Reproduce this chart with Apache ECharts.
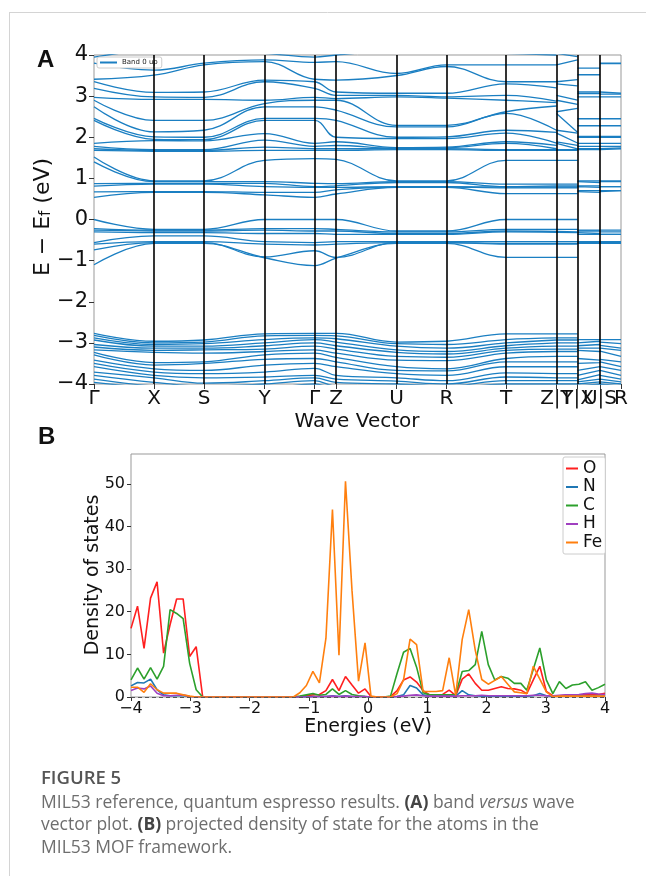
<!DOCTYPE html>
<html><head><meta charset="utf-8">
<script src="https://cdn.jsdelivr.net/npm/echarts@6/dist/echarts.min.js"></script>
<style>html,body{margin:0;padding:0;background:#fff}#c{width:646px;height:876px}</style>
</head><body><div id="c"></div>
<script>
// ---------- Panel A: band structure ----------
const kPos = [0, 60, 110, 170.5, 220.5, 242, 302.5, 352.5, 412, 462.5, 483.5, 506, 527];
const kLabels = ['Γ', 'X', 'S', 'Y', 'Γ', 'Z', 'U', 'R', 'T', 'Z|T', 'Y|X', 'U|S', 'R'];
// sampled path positions (duplicated at the discontinuities Z|T, Y|X, U|S)
const kSample = [0, 60, 110, 170.5, 220.5, 242, 302.5, 352.5, 412, 462.5, 462.5, 483.5, 483.5, 506, 506, 527];
const jumpAfter = [9, 11, 13];

// energies (eV) of each band group at each sampled k position
const deepVB = [
  [-2.77,-2.82,-2.88,-2.93,-3.04,-3.10,-3.17,-3.23,-3.29,-3.42,-3.50,-3.58,-3.71,-3.79,-3.88,-3.96],
  [-2.96,-3.00,-3.04,-3.08,-3.13,-3.18,-3.23,-3.48,-3.54,-3.63,-3.71,-3.79,-3.85,-3.96,-4.05,-4.10],
  [-2.93,-2.98,-3.02,-3.08,-3.13,-3.17,-3.25,-3.46,-3.50,-3.67,-3.75,-3.85,-3.98,-4.05,-4.10,-4.15],
  [-2.78,-2.83,-2.92,-3.00,-3.07,-3.15,-3.21,-3.29,-3.40,-3.54,-3.71,-3.83,-3.92,-4.00,-4.10,-4.15],
  [-2.77,-2.82,-2.88,-2.92,-3.00,-3.08,-3.17,-3.25,-3.38,-3.50,-3.62,-3.79,-3.85,-3.92,-4.00,-4.10],
  [-2.77,-2.83,-2.90,-2.98,-3.07,-3.15,-3.25,-3.35,-3.46,-3.58,-3.79,-3.88,-3.96,-4.05,-4.10,-4.15],
  [-2.98,-3.02,-3.08,-3.17,-3.23,-3.33,-3.42,-3.58,-3.67,-3.75,-3.85,-3.93,-4.00,-4.05,-4.10,-4.15],
  [-2.96,-3.04,-3.13,-3.21,-3.27,-3.35,-3.43,-3.63,-3.68,-3.79,-3.92,-4.00,-4.05,-4.10,-4.15,-4.20],
  [-2.78,-2.92,-3.00,-3.07,-3.13,-3.18,-3.25,-3.38,-3.46,-3.58,-3.73,-3.83,-3.92,-4.00,-4.10,-4.15],
  [-2.78,-2.88,-2.93,-3.00,-3.08,-3.15,-3.21,-3.33,-3.46,-3.58,-3.75,-3.85,-3.92,-4.00,-4.10,-4.15],
  [-2.78,-2.88,-2.93,-3.00,-3.08,-3.15,-3.21,-3.33,-3.46,-3.58,-3.75,-3.85,-3.92,-4.00,-4.10,-4.15],
  [-2.78,-2.88,-2.93,-3.00,-3.08,-3.15,-3.21,-3.33,-3.46,-3.58,-3.75,-3.85,-3.92,-4.00,-4.10,-4.15],
  [-2.92,-3.00,-3.07,-3.13,-3.18,-3.38,-3.50,-3.67,-3.79,-3.90,-3.95,-4.00,-4.05,-4.10,-4.15,-4.20],
  [-2.92,-2.96,-3.04,-3.13,-3.21,-3.42,-3.48,-3.58,-3.67,-3.77,-3.88,-3.95,-4.00,-4.10,-4.15,-4.20],
  [-2.92,-2.98,-3.06,-3.13,-3.20,-3.40,-3.46,-3.58,-3.67,-3.79,-3.88,-3.95,-4.00,-4.10,-4.15,-4.20],
  [-2.92,-3.02,-3.13,-3.18,-3.33,-3.46,-3.58,-3.67,-3.79,-3.88,-3.95,-4.00,-4.05,-4.10,-4.15,-4.20]
];
const nearVB = [
  [0.00,-0.22,-0.26,-0.30,-0.56,-0.60,-0.74,-1.10],
  [-0.24,-0.26,-0.28,-0.32,-0.40,-0.54,-0.56,-0.58],
  [-0.24,-0.26,-0.28,-0.32,-0.40,-0.54,-0.56,-0.58],
  [0.00,-0.22,-0.26,-0.34,-0.54,-0.60,-0.91,-0.93],
  [0.00,-0.22,-0.28,-0.34,-0.56,-0.62,-0.76,-1.12],
  [0.00,-0.24,-0.28,-0.36,-0.54,-0.60,-0.92,-0.94],
  [-0.28,-0.30,-0.34,-0.36,-0.54,-0.56,-0.56,-0.58],
  [-0.28,-0.30,-0.34,-0.36,-0.54,-0.56,-0.56,-0.58],
  [0.00,-0.24,-0.28,-0.30,-0.54,-0.58,-0.60,-0.92],
  [0.00,-0.24,-0.29,-0.31,-0.54,-0.58,-0.60,-0.92],
  [0.00,-0.24,-0.29,-0.31,-0.54,-0.58,-0.60,-0.92],
  [0.00,-0.24,-0.30,-0.32,-0.54,-0.58,-0.60,-0.92],
  [-0.26,-0.28,-0.32,-0.36,-0.54,-0.56,-0.58,-0.58],
  [-0.26,-0.28,-0.34,-0.36,-0.54,-0.56,-0.58,-0.58],
  [-0.26,-0.30,-0.36,-0.36,-0.54,-0.56,-0.58,-0.58],
  [-0.26,-0.30,-0.36,-0.36,-0.54,-0.56,-0.58,-0.58]
];
const lowCB = [
  [1.52,1.40,0.87,0.81,0.67,0.54],
  [0.94,0.92,0.88,0.86,0.68,0.66],
  [0.94,0.92,0.88,0.86,0.68,0.66],
  [1.44,0.92,0.88,0.80,0.66,0.60],
  [1.48,0.88,0.80,0.78,0.66,0.54],
  [1.46,0.87,0.82,0.78,0.72,0.62],
  [0.94,0.92,0.90,0.80,0.79,0.78],
  [0.94,0.92,0.90,0.80,0.79,0.78],
  [1.44,0.86,0.80,0.79,0.77,0.63],
  [1.44,0.86,0.82,0.79,0.77,0.63],
  [1.44,0.86,0.82,0.79,0.77,0.63],
  [1.44,0.86,0.82,0.79,0.77,0.63],
  [0.94,0.92,0.82,0.80,0.70,0.68],
  [0.94,0.90,0.82,0.78,0.70,0.66],
  [0.94,0.92,0.80,0.80,0.70,0.68],
  [0.94,0.92,0.80,0.80,0.70,0.70]
];
const highCB = [
  [3.95,3.80,3.41,3.35,3.19,2.97,2.90,2.74,2.46,2.41,1.85,1.78,1.72,1.68],
  [4.10,3.63,3.51,3.09,2.98,2.92,2.41,2.13,2.01,1.95,1.92,1.70,1.68,1.66],
  [4.10,3.80,3.76,3.10,2.97,2.92,2.41,2.17,2.00,1.94,1.91,1.70,1.68,1.66],
  [4.04,3.88,3.84,3.39,3.35,2.90,2.82,2.74,2.46,2.41,2.09,1.93,1.76,1.68],
  [3.95,3.82,3.41,3.35,3.19,2.97,2.90,2.74,2.46,2.41,1.85,1.78,1.72,1.68],
  [4.00,3.84,3.39,3.10,3.02,2.94,2.90,2.66,2.41,2.00,1.89,1.80,1.72,1.68],
  [4.10,3.55,3.50,3.07,3.02,2.98,2.29,2.25,2.00,1.97,1.75,1.73,1.72,1.70],
  [4.10,3.76,3.72,3.07,2.98,2.95,2.29,2.25,2.01,1.97,1.76,1.74,1.72,1.70],
  [4.04,3.76,3.35,3.30,3.02,2.90,2.62,2.58,2.17,2.10,1.89,1.85,1.70,1.68],
  [4.00,3.76,3.35,3.20,2.88,2.84,2.76,2.17,2.12,1.86,1.80,1.72,1.70,1.68],
  [4.04,3.76,3.35,3.30,3.02,2.90,2.62,2.58,2.17,2.10,1.89,1.85,1.70,1.68],
  [3.96,3.88,3.40,3.25,2.90,2.80,2.70,2.12,2.10,1.86,1.80,1.72,1.70,1.68],
  [4.10,3.68,3.52,3.10,3.06,2.98,2.45,2.28,2.02,2.00,1.85,1.78,1.72,1.70],
  [4.10,3.68,3.52,3.10,3.06,2.98,2.45,2.28,2.02,2.00,1.85,1.78,1.72,1.70],
  [4.10,3.80,3.79,3.10,3.05,2.98,2.45,2.28,2.02,2.00,1.85,1.78,1.72,1.70],
  [4.10,3.80,3.79,3.07,3.05,2.98,2.45,2.28,2.02,2.00,1.85,1.78,1.74,1.72]
];
const bandTicks = [-4, -3, -2, -1, 0, 1, 2, 3, 4];

// ---------- Panel B: projected DOS ----------
const energies = [-4.00,-3.89,-3.78,-3.67,-3.56,-3.45,-3.34,-3.23,-3.12,-3.01,-2.90,-2.79,-2.68,-2.58,-2.47,-2.36,-2.25,-2.14,-2.03,-1.92,-1.81,-1.70,-1.59,-1.48,-1.37,-1.26,-1.15,-1.04,-0.93,-0.82,-0.71,-0.60,-0.49,-0.38,-0.27,-0.16,-0.05,0.05,0.16,0.27,0.38,0.49,0.60,0.71,0.82,0.93,1.04,1.15,1.26,1.37,1.48,1.59,1.70,1.81,1.92,2.03,2.14,2.25,2.36,2.47,2.58,2.68,2.79,2.90,3.01,3.12,3.23,3.34,3.45,3.56,3.67,3.78,3.89,4.00];
const dosO = [16.1,21.3,11.4,23.2,27.0,10.3,17.0,23.0,23.0,9.5,11.8,0, 0,0,0,0,0,0,0,0,0,0,0,0,0,
  0,0.1,0.3,0.5,0.6,1.5,4.1,1.5,4.8,2.8,0.9,1.9,0.1,0,0,0.1,
  1.5,4.0,4.7,3.5,1.5,0.5,0.5,0.6,1.6,0.3,
  4.2,5.4,3.2,1.6,1.6,2.0,2.4,2.0,1.9,1.6,
  0.8,4.0,7.2,1.3,0.3,0.3,0.4,0.4,0.5,0.5,0.5,0.6,0.9];
const dosN = [2.6,3.4,3.3,4.2,1.7,0.5,0.3,0.3,0.3,0.1,0,0, 0,0,0,0,0,0,0,0,0,0,0,0,0,
  0,0,0,0.1,0.1,0.1,0.3,0.1,0.3,0.1,0.1,0.1,0,0,0,0,
  0.1,0.5,2.7,2.1,0.5,0.2,0.2,0.2,0.3,0.2,
  1.5,0.5,0.3,0.2,0.2,0.2,0.2,0.2,0.2,0.2,
  0.2,0.3,0.8,0.3,0.2,0.2,0.2,0.2,0.2,0.2,0.2,0.2,0.2];
const dosC = [4.0,6.8,4.2,6.9,4.2,7.2,20.5,19.6,18.4,7.9,1.7,0, 0,0,0,0,0,0,0,0,0,0,0,0,0,
  0,0.2,0.5,0.8,0.4,0.6,1.9,0.6,1.5,0.6,0.3,0.1,0,0,0,0.2,
  5.5,10.5,11.4,7.0,1.0,0.5,0.5,0.5,0.5,0.6,
  6.0,6.2,7.6,15.4,7.6,4.0,4.8,4.4,3.2,3.2,
  1.6,6.5,11.5,4.0,0.8,3.6,2.0,2.8,3.0,3.6,1.6,2.2,3.0];
const dosH = [1.5,2.1,1.9,2.6,0.9,0.3,0.3,0.4,0.5,0.1,0,0, 0,0,0,0,0,0,0,0,0,0,0,0,0,
  0,0,0,0,0.1,0.1,0.2,0.1,0.2,0.1,0.1,0.1,0,0,0,0,
  0.1,0.2,0.4,0.5,0.3,0.2,0.2,0.2,0.2,0.2,
  0.3,0.3,0.3,0.4,0.3,0.3,0.3,0.3,0.3,0.3,
  0.3,0.4,0.4,0.3,0.3,0.4,0.5,0.5,0.6,0.8,0.9,0.7,0.6];
const dosFe = [2.3,2.3,1.1,3.1,1.7,0.9,0.9,0.9,0.5,0.2,0,0, 0,0,0,0,0,0,0,0,0,0,0,0,0,
  0,1.0,2.7,6.0,3.3,13.8,44.0,9.8,50.6,25.0,3.7,12.7,0.2,0,0,0,
  0.8,4.0,13.6,12.3,1.3,1.3,1.3,1.5,9.2,0.4,
  13.5,20.5,11.0,4.1,3.0,3.9,4.8,3.0,1.2,1.0,
  0.8,7.2,4.2,1.2,0.1,0.2,0.2,0.2,0.2,0.2,0.2,0.2,0.2];
const dosNames = ['O', 'N', 'C', 'H', 'Fe'];
const dosColors = ['#ff1f1f', '#1f77b4', '#2ca02c', '#a040c0', '#ff7f0e'];
const dosTicksY = [0, 10, 20, 30, 40, 50];

// ---------- build ----------
const FONT = 'DejaVu Sans';
const BAND_COLOR = '#1b7fc2';
const minus = v => String(v).replace('-', '\u2212');
const kLabelOf = v => { let b = 0; kPos.forEach((p, i) => { if (Math.abs(p - v) < Math.abs(kPos[b] - v)) b = i; }); return kLabels[b]; };
// split labels over two bottom axes so close labels are not dropped
const kPosMain = kPos.filter((p, i) => i !== 10 && i !== 12);
const kPosAlt = [kPos[10], kPos[12]];

function bandData(group, j) {
  const out = [];
  kSample.forEach((k, i) => {
    out.push([k, group[i][j]]);
    if (jumpAfter.includes(i)) out.push([k, '-']);
  });
  return out;
}
const series = [];
[deepVB, nearVB, lowCB, highCB].forEach(group => {
  for (let j = 0; j < group[0].length; j++) {
    series.push({
      type: 'line', name: 'Band 0 up', xAxisIndex: 0, yAxisIndex: 0,
      data: bandData(group, j), showSymbol: false, smooth: 0.4, connectNulls: false,
      lineStyle: { color: BAND_COLOR, width: 1.3 }, itemStyle: { color: BAND_COLOR },
      silent: true, z: 2
    });
  }
});
// high-symmetry vertical lines
series.push({
  type: 'line', xAxisIndex: 0, yAxisIndex: 0, data: [[0, -10]], showSymbol: false, silent: true, z: 4,
  lineStyle: { opacity: 0 },
  markLine: {
    silent: true, symbol: ['none', 'none'], label: { show: false },
    lineStyle: { color: '#000', width: 1.6, type: 'solid' },
    data: kPos.slice(1, -1).map(k => ({ xAxis: k }))
  }
});
const dosSeries = [dosO, dosN, dosC, dosH, dosFe];
dosSeries.forEach((arr, i) => {
  const s = {
    type: 'line', name: dosNames[i], xAxisIndex: 1, yAxisIndex: 1,
    data: energies.map((e, k) => [e, arr[k]]), showSymbol: false,
    lineStyle: { color: dosColors[i], width: 1.6 }, itemStyle: { color: dosColors[i] },
    silent: true, z: 3
  };
  if (i === 0) {
    s.markLine = {
      silent: true, symbol: ['none', 'none'], label: { show: false },
      lineStyle: { color: '#555', width: 1, type: [4, 3] }, data: [{ yAxis: 0 }]
    };
  }
  series.push(s);
});

const noLine = { show: false, onZero: false };
const kLabelStyle = { showMinLabel: true, showMaxLabel: true, hideOverlap: false,
  fontSize: 20, fontFamily: FONT, color: '#111', margin: 5, formatter: kLabelOf };
const option = {
  animation: false,
  grid: [
    { left: 94, top: 55, width: 527, height: 329, show: true, borderColor: '#999', borderWidth: 1 },
    { left: 131, top: 454, width: 474, height: 243, show: true, borderColor: '#999', borderWidth: 1 }
  ],
  xAxis: [
    { gridIndex: 0, type: 'value', min: 0, max: 527, position: 'bottom',
      axisLine: noLine, splitLine: { show: false },
      axisTick: { show: true, customValues: kPos, length: 5, lineStyle: { color: '#333' } },
      axisLabel: Object.assign({ customValues: kPosMain }, kLabelStyle) },
    { gridIndex: 1, type: 'value', min: -4, max: 4, interval: 1,
      axisLine: noLine, splitLine: { show: false },
      axisTick: { show: true, length: 4, lineStyle: { color: '#333' } },
      axisLabel: { fontSize: 16, fontFamily: FONT, color: '#111', margin: 4, formatter: minus } },
    { gridIndex: 0, type: 'value', min: 0, max: 527, position: 'bottom', offset: 0,
      axisLine: noLine, splitLine: { show: false }, axisTick: { show: false },
      axisLabel: Object.assign({ customValues: kPosAlt }, kLabelStyle) }
  ],
  yAxis: [
    { gridIndex: 0, type: 'value', min: -4, max: 4, interval: 1,
      axisLine: noLine, splitLine: { show: false },
      axisTick: { show: true, customValues: bandTicks, length: 5, lineStyle: { color: '#333' } },
      axisLabel: { customValues: bandTicks, fontSize: 21, fontFamily: FONT, color: '#111', margin: 6, formatter: minus } },
    { gridIndex: 1, type: 'value', min: 0, max: 57,
      axisLine: noLine, splitLine: { show: false },
      axisTick: { show: true, customValues: dosTicksY, length: 4, lineStyle: { color: '#333' } },
      axisLabel: { customValues: dosTicksY, fontSize: 16, fontFamily: FONT, color: '#111', margin: 6 } }
  ],
  legend: [
    { data: ['Band 0 up'], left: 97, top: 57, orient: 'vertical', icon: 'rect', itemWidth: 17, itemHeight: 2,
      itemGap: 2, padding: [2, 4, 2, 3], borderColor: '#ccc', borderWidth: 1, borderRadius: 2, backgroundColor: '#fff',
      textStyle: { fontSize: 7, fontFamily: FONT, color: '#222' }, selectedMode: false },
    { data: dosNames, left: 563, top: 457, orient: 'vertical', icon: 'rect', itemWidth: 12, itemHeight: 2,
      itemGap: 1.5, padding: [3, 3, 3, 3], borderColor: '#ccc', borderWidth: 1, borderRadius: 2, backgroundColor: '#fff',
      textStyle: { fontSize: 17, lineHeight: 17, fontFamily: FONT, color: '#111' }, selectedMode: false }
  ],
  graphic: [
    { type: 'line', silent: true, shape: { x1: 9, y1: 12.5, x2: 646, y2: 12.5 }, style: { stroke: '#d4d4d4', lineWidth: 1 } },
    { type: 'line', silent: true, shape: { x1: 9.5, y1: 12, x2: 9.5, y2: 876 }, style: { stroke: '#d4d4d4', lineWidth: 1 } },
    { type: 'text', silent: true, x: 37, y: 60, style: { text: 'A', fontSize: 24, fontWeight: 'bold', fontFamily: 'Liberation Sans', fill: '#111', align: 'left', verticalAlign: 'middle', textAlign: 'left', textVerticalAlign: 'middle' } },
    { type: 'text', silent: true, x: 38, y: 437, style: { text: 'B', fontSize: 24, fontWeight: 'bold', fontFamily: 'Liberation Sans', fill: '#111', align: 'left', verticalAlign: 'middle', textAlign: 'left', textVerticalAlign: 'middle' } },
    { type: 'text', silent: true, x: 43, y: 217, rotation: Math.PI / 2,
      style: { text: 'E \u2212 E{sub|f} (eV)', fontSize: 22, fontFamily: FONT, fill: '#111', align: 'center', verticalAlign: 'middle', textAlign: 'center', textVerticalAlign: 'middle',
        rich: { sub: { fontSize: 15, fontFamily: FONT, fill: '#111', color: '#111', verticalAlign: 'bottom', lineHeight: 12 } } } },
    { type: 'text', silent: true, x: 357, y: 422, style: { text: 'Wave Vector', fontSize: 20, fontFamily: FONT, fill: '#111', align: 'center', verticalAlign: 'middle', textAlign: 'center', textVerticalAlign: 'middle' } },
    { type: 'text', silent: true, x: 93, y: 575, rotation: Math.PI / 2, style: { text: 'Density of states', fontSize: 19, fontFamily: FONT, fill: '#111', align: 'center', verticalAlign: 'middle', textAlign: 'center', textVerticalAlign: 'middle' } },
    { type: 'text', silent: true, x: 368, y: 727, style: { text: 'Energies (eV)', fontSize: 19, fontFamily: FONT, fill: '#111', align: 'center', verticalAlign: 'middle', textAlign: 'center', textVerticalAlign: 'middle' } },
    { type: 'text', silent: true, x: 41, y: 779, style: { text: 'FIGURE 5', fontSize: 18.5, fontWeight: 600, fontFamily: 'Open Sans', fill: '#555', align: 'left', verticalAlign: 'middle', textAlign: 'left', textVerticalAlign: 'middle' } },
    { type: 'text', silent: true, x: 41, y: 803, style: { text: 'MIL53 reference, quantum espresso results. {b|(A)} band {i|versus} wave', fontSize: 17.5, fontFamily: 'Open Sans', fill: '#6e6e6e', align: 'left', verticalAlign: 'middle', textAlign: 'left', textVerticalAlign: 'middle',
        rich: { b: { fontSize: 17.5, fontFamily: 'Open Sans', fontWeight: 'bold', fill: '#444', color: '#444' }, i: { fontSize: 17.5, fontFamily: 'Open Sans', fontStyle: 'italic', fill: '#6e6e6e', color: '#6e6e6e' } } } },
    { type: 'text', silent: true, x: 41, y: 825, style: { text: 'vector plot. {b|(B)} projected density of state for the atoms in the', fontSize: 17.5, fontFamily: 'Open Sans', fill: '#6e6e6e', align: 'left', verticalAlign: 'middle', textAlign: 'left', textVerticalAlign: 'middle',
        rich: { b: { fontSize: 17.5, fontFamily: 'Open Sans', fontWeight: 'bold', fill: '#444', color: '#444' } } } },
    { type: 'text', silent: true, x: 41, y: 848, style: { text: 'MIL53 MOF framework.', fontSize: 17.5, fontFamily: 'Open Sans', fill: '#6e6e6e', align: 'left', verticalAlign: 'middle', textAlign: 'left', textVerticalAlign: 'middle' } }
  ],
  series: series
};
const chart = echarts.init(document.getElementById('c'), null, { renderer: 'canvas' });
chart.setOption(option);
</script></body></html>
